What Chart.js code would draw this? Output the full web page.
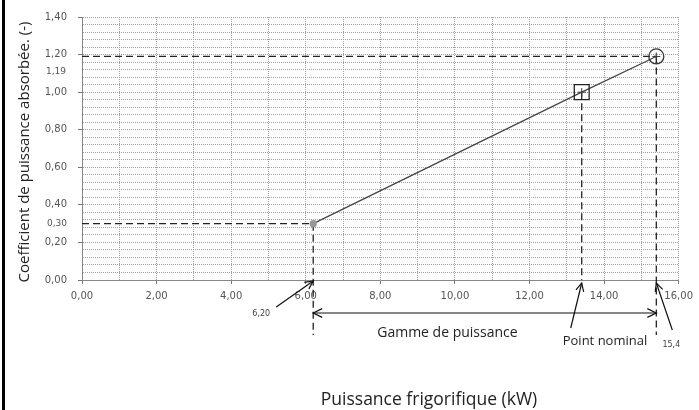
<!DOCTYPE html>
<html lang="fr">
<head>
<meta charset="utf-8">
<title>Coefficient de puissance absorbée</title>
<script src="https://cdn.jsdelivr.net/npm/chart.js@4.4.1/dist/chart.umd.min.js"></script>
<style>
  html, body { margin: 0; padding: 0; background: #fff; }
  #box { position: relative; width: 699px; height: 410px; }
</style>
</head>
<body>
<div id="box"><canvas id="chart" width="699" height="410"></canvas></div>
<script>
// Operating points: minimum, nominal, maximum capacity
const capacityKW = [6.2, 13.4, 15.4];
const powerCoef = [0.30, 1.00, 1.19];
const capacityNotes = ['6,20', 'Point nominal', '15,4'];

// Labelled ticks (grid is finer: 1 kW and 0.04)
const xTickValues = [0, 2, 4, 6, 8, 10, 12, 14, 16];
const yTickValues = [0, 0.2, 0.4, 0.6, 0.8, 1.0, 1.2, 1.4];

const fmt = v => v.toFixed(2).replace('.', ',');
const isLabelled = (list, v) => list.some(t => Math.abs(t - v) < 1e-6);

const tickFont = { family: 'DejaVu Sans', size: 10 };

function arrowHead(ctx, fromX, fromY, toX, toY, size) {
    const a = Math.atan2(toY - fromY, toX - fromX);
    ctx.beginPath();
    ctx.moveTo(toX - size * Math.cos(a - 0.45), toY - size * Math.sin(a - 0.45));
    ctx.lineTo(toX, toY);
    ctx.lineTo(toX - size * Math.cos(a + 0.45), toY - size * Math.sin(a + 0.45));
    ctx.stroke();
}

function arrow(ctx, fromX, fromY, toX, toY) {
    ctx.beginPath();
    ctx.moveTo(fromX, fromY);
    ctx.lineTo(toX, toY);
    ctx.stroke();
    arrowHead(ctx, fromX, fromY, toX, toY, 9);
}

// Dashed reference lines, the capacity range arrow and the notes
const guides = {
    id: 'guides',
    beforeDatasetsDraw(chart) {
        const { ctx, scales: { x, y } } = chart;
        const px = capacityKW.map(v => x.getPixelForValue(v));
        const py = powerCoef.map(v => y.getPixelForValue(v));
        const drop = y.bottom + 55;

        ctx.save();
        ctx.strokeStyle = '#222';
        ctx.lineWidth = 1.3;
        ctx.setLineDash([7, 4]);
        ctx.beginPath();
        // horizontals to the y axis for min and max
        ctx.moveTo(x.left, py[0]); ctx.lineTo(px[0], py[0]);
        ctx.moveTo(x.left, py[2]); ctx.lineTo(px[2], py[2]);
        // verticals down below the axis
        ctx.moveTo(px[0], py[0]); ctx.lineTo(px[0], drop);
        ctx.moveTo(px[2], py[2]); ctx.lineTo(px[2], drop);
        ctx.moveTo(px[1], py[1]); ctx.lineTo(px[1], y.bottom);
        ctx.stroke();
        ctx.restore();
    },
    afterDraw(chart) {
        const { ctx, scales: { x, y } } = chart;
        const px = capacityKW.map(v => x.getPixelForValue(v));
        const base = y.bottom;

        ctx.save();
        // page frame on the left
        ctx.fillStyle = '#000';
        ctx.fillRect(2, 0, 3, 410);

        ctx.strokeStyle = '#111';
        ctx.lineWidth = 1.2;
        ctx.setLineDash([]);

        // range arrow between min and max capacity
        const ry = base + 33;
        ctx.beginPath();
        ctx.moveTo(px[0], ry); ctx.lineTo(px[2], ry);
        ctx.stroke();
        arrowHead(ctx, px[2], ry, px[0], ry, 10);
        arrowHead(ctx, px[0], ry, px[2], ry, 10);

        // pointer arrows onto the x axis
        arrow(ctx, px[0] - 37, base + 27, px[0], base + 1);
        arrow(ctx, px[1] - 11, base + 48, px[1], base + 3);
        arrow(ctx, px[2] + 16, base + 50, px[2], base + 3);

        ctx.fillStyle = '#222';
        ctx.textBaseline = 'middle';
        ctx.textAlign = 'left';
        ctx.font = '14px "Open Sans"';
        ctx.fillText('Gamme de puissance', px[0] + 64, base + 53);
        ctx.font = '13px "Open Sans"';
        ctx.fillText(capacityNotes[1], px[1] - 19, base + 61);

        ctx.font = '8px "DejaVu Sans"';
        ctx.fillStyle = '#444';
        ctx.textAlign = 'center';
        ctx.fillText(capacityNotes[0], px[0] - 52, base + 34);
        ctx.fillText(capacityNotes[2], px[2] + 15, base + 65);

        // extra y labels for the min and max coefficients
        ctx.font = '9px "DejaVu Sans"';
        ctx.fillStyle = '#555';
        ctx.textAlign = 'right';
        ctx.fillText(fmt(powerCoef[0]), 67, y.getPixelForValue(powerCoef[0]));
        ctx.fillText(fmt(powerCoef[2]), 66, y.getPixelForValue(powerCoef[2]) + 15);

        // axis titles
        ctx.fillStyle = '#222';
        ctx.textAlign = 'center';
        ctx.font = '17.5px "Open Sans"';
        ctx.fillText('Puissance frigorifique (kW)', 429, 400);
        ctx.font = '15px "Open Sans"';
        ctx.translate(25, 152);
        ctx.rotate(-Math.PI / 2);
        ctx.fillText('Coefficient de puissance absorbée. (-)', 0, 0);
        ctx.restore();
    }
};

const points = capacityKW.map((v, i) => ({ x: v, y: powerCoef[i] }));

new Chart(document.getElementById('chart'), {
    type: 'scatter',
    data: {
        datasets: [{
            data: points,
            showLine: true,
            borderColor: '#444',
            borderWidth: 1.2,
            pointStyle: ['circle', 'rect', 'circle'],
            pointRadius: [3, 10.5, 7.5],
            pointBackgroundColor: ['#999', 'rgba(0,0,0,0)', 'rgba(0,0,0,0)'],
            pointBorderColor: ['#999', '#222', '#333'],
            pointBorderWidth: 1.3
        }, {
            data: points.slice(1),
            pointStyle: 'cross',
            pointRadius: 4,
            pointBorderColor: '#333',
            pointBorderWidth: 1
        }]
    },
    options: {
        responsive: false,
        animation: false,
        events: [],
        layout: { padding: { top: 16, right: 14, left: 0, bottom: 0 } },
        plugins: { legend: { display: false }, tooltip: { enabled: false } },
        scales: {
            x: {
                type: 'linear',
                min: 0,
                max: 16,
                ticks: {
                    stepSize: 1,
                    autoSkip: false,
                    maxRotation: 0,
                    padding: 6,
                    color: '#555',
                    font: tickFont,
                    callback: v => isLabelled(xTickValues, v) ? fmt(v) : ''
                },
                grid: {
                    color: '#a0a0a0',
                    lineWidth: 1,
                    tickLength: 4,
                    tickColor: c => c.tick && isLabelled(xTickValues, c.tick.value) ? '#777' : 'rgba(0,0,0,0)'
                },
                border: { color: '#888', dash: [1, 1] },
                afterFit: s => { s.height = 130; }
            },
            y: {
                type: 'linear',
                min: 0,
                max: 1.4,
                ticks: {
                    stepSize: 0.04,
                    autoSkip: false,
                    padding: 11,
                    color: '#555',
                    font: tickFont,
                    callback: v => isLabelled(yTickValues, v) ? fmt(v) : ''
                },
                grid: {
                    color: '#a0a0a0',
                    lineWidth: 1,
                    tickLength: 4,
                    tickColor: c => c.tick && isLabelled(yTickValues, c.tick.value) ? '#777' : 'rgba(0,0,0,0)'
                },
                border: { color: '#888', dash: [1, 1] },
                afterFit: s => { s.width = 82; }
            }
        }
    },
    plugins: [guides]
});
</script>
</body>
</html>
